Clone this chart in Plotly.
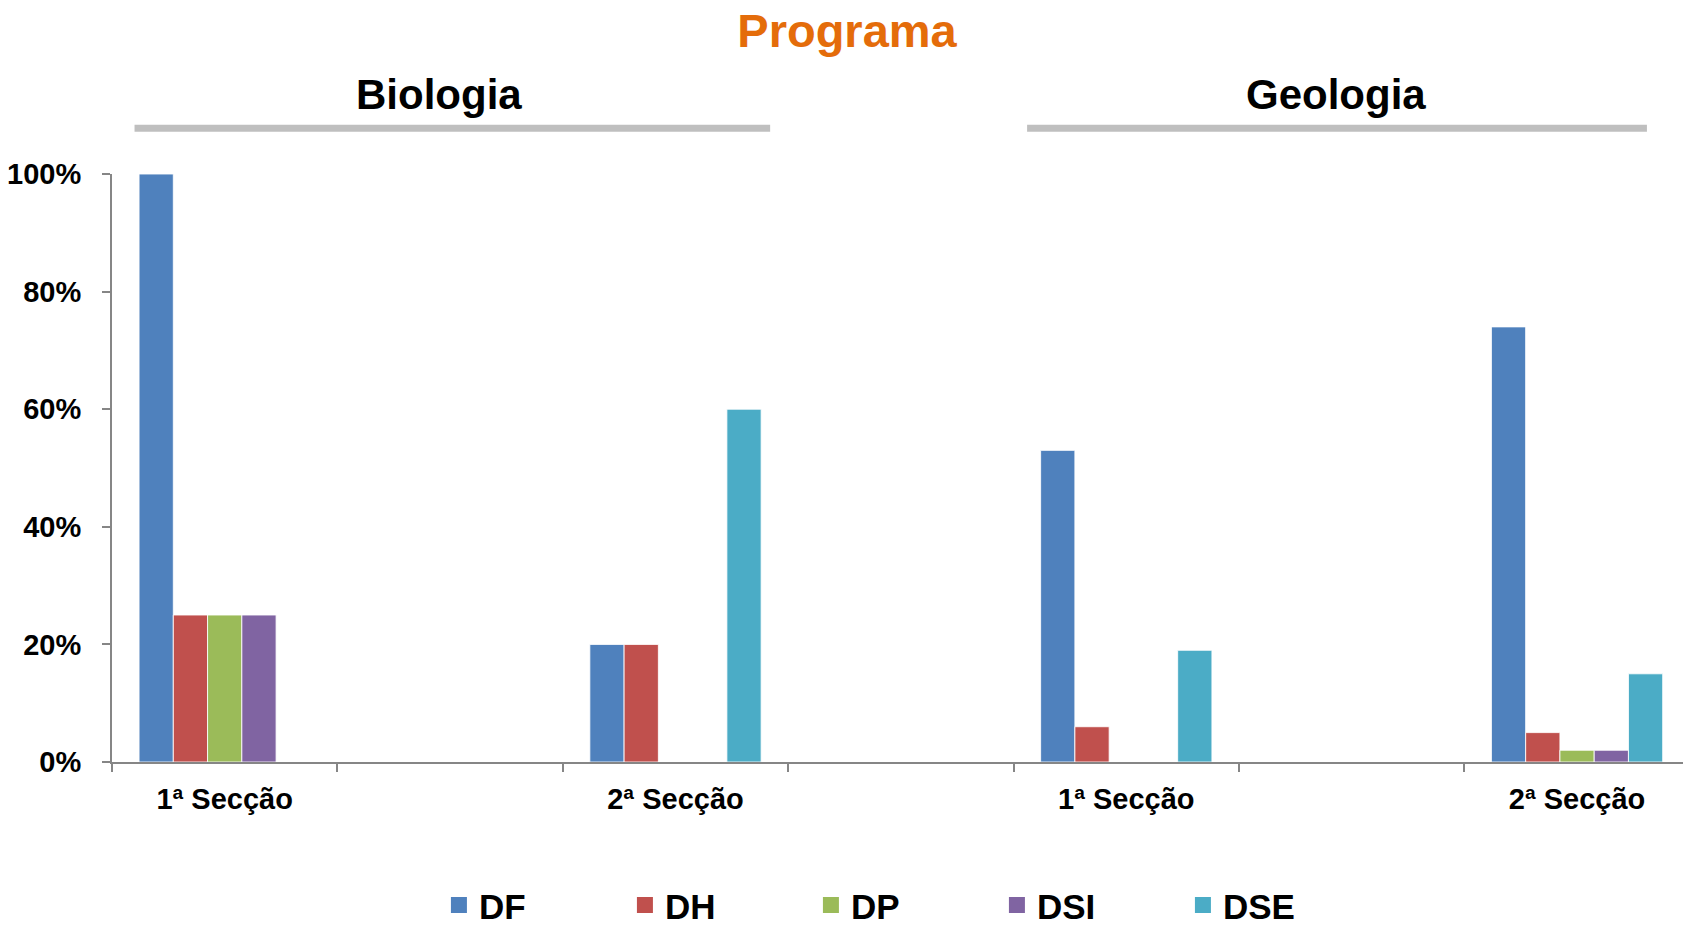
import plotly.graph_objects as go

# ---- data ----
series = ["DF", "DH", "DP", "DSI", "DSE"]
colors = ["#4F81BD", "#C0504D", "#9BBB59", "#8064A2", "#4BACC6"]
positions = [0, 2, 4, 6]
tick_labels = ["1ª Secção", "2ª Secção", "1ª Secção", "2ª Secção"]
values = {
    "DF":  [1.00, 0.20, 0.53, 0.74],
    "DH":  [0.25, 0.20, 0.06, 0.05],
    "DP":  [0.25, 0.00, 0.00, 0.02],
    "DSI": [0.25, 0.00, 0.00, 0.02],
    "DSE": [0.00, 0.60, 0.19, 0.15],
}
groups = ["Biologia", "Geologia"]
y_ticks = [0, 0.2, 0.4, 0.6, 0.8, 1.0]

FONT = "Liberation Sans, Arial, sans-serif"
BAR_W = 0.152
START = -0.5 + 0.12

fig = go.Figure()
for i, (name, col) in enumerate(zip(series, colors)):
    fig.add_trace(go.Bar(
        name=name, x=positions, y=values[name],
        width=BAR_W, offset=START + i * BAR_W,
        legendgroup=name, showlegend=False,
        marker=dict(color=col, line=dict(color="rgba(255,255,255,0.85)", width=1)),
    ))
# legend entries (square swatches)
for name, col in zip(series, colors):
    fig.add_trace(go.Scatter(
        name=name, x=[None], y=[None], mode="markers", legendgroup=name,
        marker=dict(symbol="square", size=19, color=col),
    ))

# group headers with underline bars
hdr = [("Biologia", 0.95, -0.40, 2.42), ("Geologia", 4.93, 3.56, 6.31)]
for txt, cx, x0, x1 in hdr:
    fig.add_annotation(text=txt, x=cx, xref="x", y=1.1357, yref="paper",
                       showarrow=False, yanchor="middle", xanchor="center",
                       font=dict(family=FONT, size=42, color="black", weight="bold"))
    fig.add_shape(type="line", xref="x", yref="paper", x0=x0, x1=x1,
                  y0=1.078, y1=1.078, line=dict(color="#BFBFBF", width=7))

fig.update_layout(
    width=1683, height=925,
    paper_bgcolor="white", plot_bgcolor="white",
    margin=dict(l=112, r=0, t=174, b=163, autoexpand=False),
    barmode="group",
    title=dict(text="Programa", x=847 / 1683, xanchor="center",
               y=1 - 31 / 925, yanchor="middle", yref="container",
               font=dict(family=FONT, size=47, color="#E46C0A", weight="bold")),
    showlegend=True,
    legend=dict(orientation="h", x=0.2081, xanchor="left", y=-0.1935, yanchor="top",
                font=dict(family=FONT, size=35, color="black", weight="bold"),
                entrywidth=141, entrywidthmode="pixels", itemsizing="trace",
                traceorder="normal"),
    xaxis=dict(range=[-0.5, 6.47], tickmode="array", tickvals=positions,
               ticktext=tick_labels, ticks="", showline=True, linecolor="#868686",
               linewidth=2, showgrid=False, zeroline=False,
               tickfont=dict(family=FONT, size=29, color="black", weight="bold"),
               ticklabelstandoff=10,
               minor=dict(tickvals=[p - 0.5 for p in range(8)], ticks="outside",
                          ticklen=8, tickcolor="#868686", tickwidth=2, showgrid=False)),
    yaxis=dict(range=[0, 1], tickvals=y_ticks, tickformat=".0%", ticks="outside",
               ticklen=8, tickcolor="#868686", tickwidth=2, showline=True,
               linecolor="#868686", linewidth=2, showgrid=False, zeroline=False,
               tickfont=dict(family=FONT, size=29, color="black", weight="bold"),
               ticklabelstandoff=15),
)

fig.write_html("out.html", config={"displayModeBar": False},
               post_script="document.body.style.margin='0';document.body.style.overflow='hidden';")
